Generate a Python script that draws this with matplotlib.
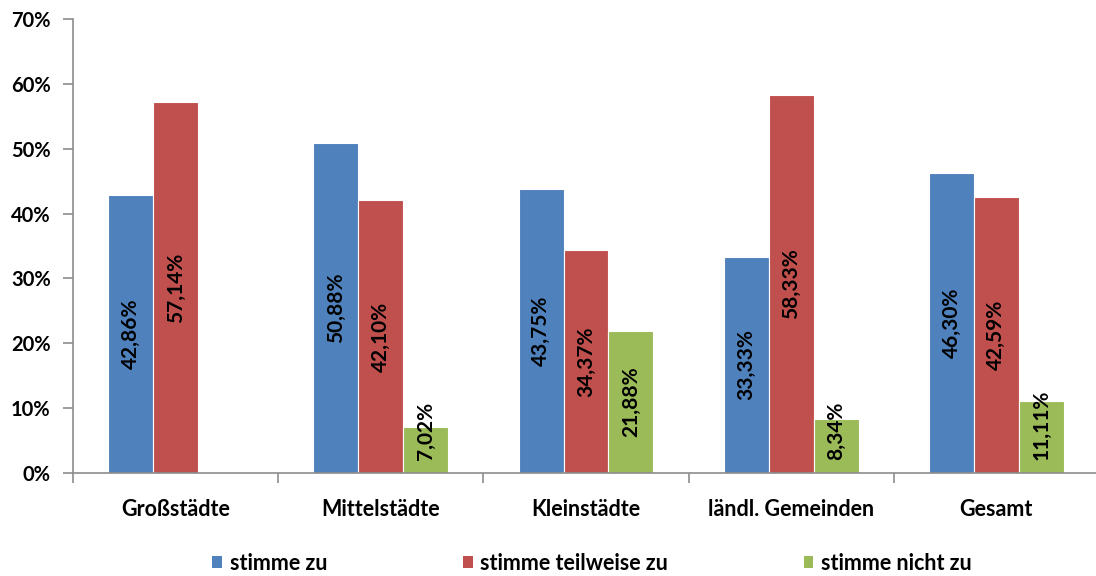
import numpy as np
import matplotlib
matplotlib.use("Agg")
import matplotlib.pyplot as plt
from matplotlib.patches import Patch
from matplotlib.ticker import FuncFormatter

# Survey results by municipality size (share of respondents, %)
categories = ["Großstädte", "Mittelstädte", "Kleinstädte", "ländl. Gemeinden", "Gesamt"]
series_names = ["stimme zu", "stimme teilweise zu", "stimme nicht zu"]
stimme_zu = [42.86, 50.88, 43.75, 33.33, 46.30]
stimme_teilweise_zu = [57.14, 42.10, 34.37, 58.33, 42.59]
stimme_nicht_zu = [np.nan, 7.02, 21.88, 8.34, 11.11]
y_ticks = [0, 10, 20, 30, 40, 50, 60, 70]

colors = ["#4F81BD", "#C0504D", "#9BBB59"]
FONT = "Lato"
plt.rcParams["font.family"] = [FONT, "DejaVu Sans"]

W, H = 1096, 576
fig = plt.figure(figsize=(W / 100, H / 100), dpi=100)
# axis spans past the right edge of the canvas
ax = fig.add_axes([73 / W, 103 / H, 1026 / W, 454 / H])

series = [stimme_zu, stimme_teilweise_zu, stimme_nicht_zu]
n_cat = len(categories)
x = np.arange(n_cat)
bw = 0.219
offsets = [-bw, 0.0, bw]

bar_groups = []
for vals, off, col in zip(series, offsets, colors):
    bars = ax.bar(x + off, vals, width=bw, color=col, edgecolor="white",
                  linewidth=0.8, zorder=2)
    bar_groups.append((bars, vals))

ax.set_xlim(-0.5, n_cat - 0.5)
ax.set_ylim(0, 70)
ax.set_yticks(y_ticks)
ax.yaxis.set_major_formatter(FuncFormatter(lambda v, p: f"{int(v)}%"))

# category boundaries as x tick marks, names as minor labels
ax.set_xticks(np.arange(-0.5, n_cat, 1.0))
ax.set_xticklabels([])
ax.set_xticks(x, minor=True)
ax.set_xticklabels(categories, minor=True)
ax.tick_params(axis="x", which="major", direction="out", length=7, width=1.2,
               color="#8C8C8C")
ax.tick_params(axis="x", which="minor", length=0, pad=19)
ax.tick_params(axis="y", direction="out", length=7, width=1.2, color="#8C8C8C",
               pad=9)
for lab in ax.get_xticklabels(minor=True):
    lab.set_fontsize(15.5)
    lab.set_fontweight("bold")
    lab.set_color("black")
for lab in ax.get_yticklabels():
    lab.set_fontsize(14.5)
    lab.set_fontweight("bold")
    lab.set_color("black")

for s in ["top", "right"]:
    ax.spines[s].set_visible(False)
for s in ["left", "bottom"]:
    ax.spines[s].set_color("#8C8C8C")
    ax.spines[s].set_linewidth(1.2)

# value labels, rotated and centred in each bar; kept clear of the baseline
fig.canvas.draw()
renderer = fig.canvas.get_renderer()
min_bottom = 2.0
for bars, vals in bar_groups:
    for rect, v in zip(bars, vals):
        if np.isnan(v):
            continue
        cx = rect.get_x() + rect.get_width() / 2
        t = ax.text(cx, v / 2, f"{v:.2f}%".replace(".", ","), rotation=90,
                    ha="center", va="center", fontsize=15, fontweight="bold",
                    color="black", zorder=3)
        bb = t.get_window_extent(renderer).transformed(ax.transData.inverted())
        if bb.y0 < min_bottom:
            t.set_y(v / 2 + (min_bottom - bb.y0))

handles = [Patch(facecolor=c, edgecolor="none") for c in colors]
fig.legend(handles, series_names, loc="center", bbox_to_anchor=(592 / W, 1 - 563 / H),
           ncol=3, frameon=False, prop={"family": FONT, "weight": "bold", "size": 15.5},
           handlelength=0.45, handleheight=0.45, handletextpad=0.35, columnspacing=6.3)

fig.savefig("out.png", dpi=100)
